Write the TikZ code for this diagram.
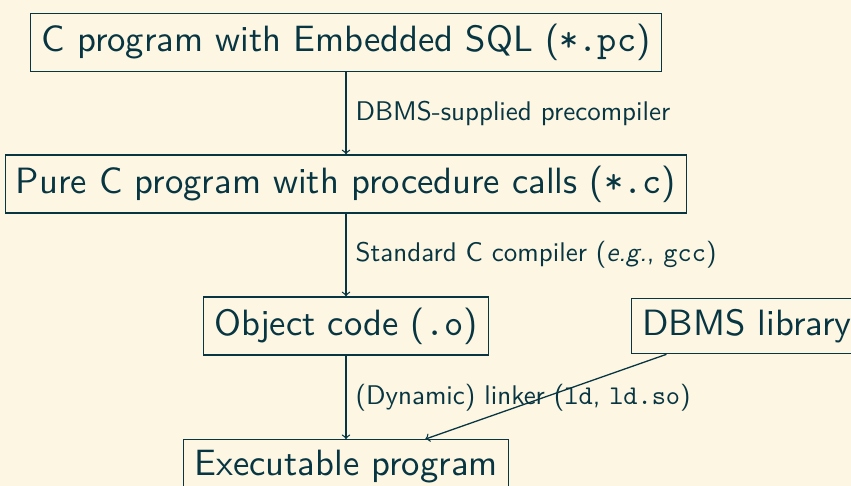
\documentclass[tikz,border=0pt]{standalone}
\usepackage{fontspec}
\setsansfont{lmsans10-regular.otf}[ItalicFont=lmsans10-oblique.otf, BoldFont=lmsans10-bold.otf]
\setmonofont{lmmono10-regular.otf}
\usetikzlibrary{arrows.meta}
\definecolor{solbg}{HTML}{FDF6E3}
\definecolor{solfg}{HTML}{073642}

\begin{document}
\begin{tikzpicture}[x=0.5pt, y=-0.5pt, line width=0.65pt,
	every node/.style={text=solfg},
	stage/.style={draw=solfg, inner sep=5.4pt, font=\sffamily\fontsize{18.3}{21}\selectfont},
	tool/.style={right, inner sep=4.5pt, font=\sffamily\fontsize{13.5}{15}\selectfont},
	>=to]
	\fill[solbg] (0,0) rectangle (851,486);
	\useasboundingbox (0,0) rectangle (851,486);
	% compilation chain
	\node[stage] (sql) at (346,42.5) {C program with Embedded SQL (\texttt{*.pc})};
	\node[stage] (pure) at (346,184) {Pure C program with procedure calls (\texttt{*.c})};
	\node[stage] (obj) at (346,326) {Object code (\texttt{.o})};
	\node[stage] (lib) at (747,326) {DBMS library};
	\node[stage] (exe) at (346,467) {Executable program};
	\draw[->, solfg] (sql) -- node[tool] {DBMS-supplied precompiler} (pure);
	\draw[->, solfg] (pure) -- node[tool] {Standard C compiler (\emph{e.g.}, \texttt{gcc})} (obj);
	\draw[->, solfg] (obj) -- node[tool] {(Dynamic) linker (\texttt{ld}, \texttt{ld.so})} (exe);
	\draw[->, solfg] (lib) -- (exe);
\end{tikzpicture}
\end{document}
